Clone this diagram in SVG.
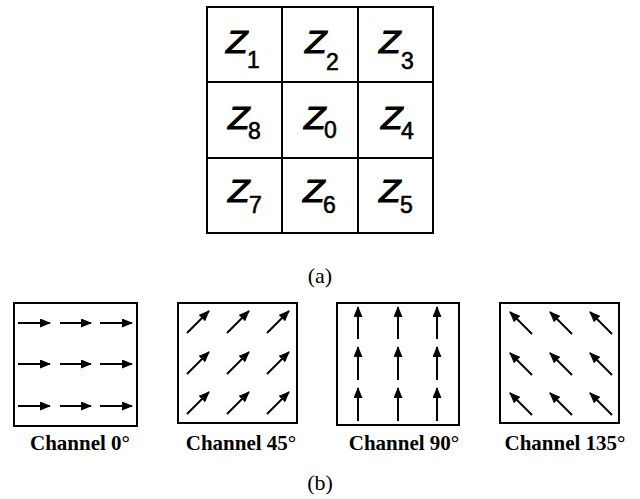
<svg xmlns="http://www.w3.org/2000/svg" width="640" height="499" viewBox="0 0 640 499">
<style>
.frame{fill:#fff;stroke:#000;stroke-width:2}
.z{font-family:"Liberation Sans",Arial,sans-serif;font-style:italic;font-size:32px;fill:#000;stroke:#000;stroke-width:1}
.sub{font-family:"Liberation Sans",Arial,sans-serif;font-size:23px;fill:#000;stroke:#000;stroke-width:0.6}
.lab{font-family:"Liberation Serif","Times New Roman",serif;font-weight:bold;font-size:21px;text-anchor:middle;fill:#000}
.cap{font-family:"Liberation Serif","Times New Roman",serif;font-size:22px;text-anchor:middle;fill:#000}
.ar{stroke:#000;stroke-width:2;fill:none;marker-end:url(#ah)}
</style>
<defs>
<marker id="ah" markerUnits="userSpaceOnUse" markerWidth="11" markerHeight="9" refX="10" refY="4.5" orient="auto">
<path d="M0,0 L11,4.5 L0,9 Z" fill="#000"/>
</marker>
</defs>
<rect width="640" height="499" fill="#fff"/>
<g id="grid">
<rect class="frame" x="207" y="7" width="226" height="226"/>
<path d="M282,7V233M358,7V233M207,82H433M207,158H433" stroke="#000" stroke-width="2" fill="none"/>
</g>
<g id="cells">
<text class="z" x="226" y="53" textLength="21.5" lengthAdjust="spacingAndGlyphs">Z</text><text class="sub" x="247" y="68">1</text>
<text class="z" x="305" y="53" textLength="21.5" lengthAdjust="spacingAndGlyphs">Z</text><text class="sub" x="326" y="70">2</text>
<text class="z" x="379" y="53" textLength="21.5" lengthAdjust="spacingAndGlyphs">Z</text><text class="sub" x="401" y="69">3</text>
<text class="z" x="228" y="129" textLength="21.5" lengthAdjust="spacingAndGlyphs">Z</text><text class="sub" x="248" y="139">8</text>
<text class="z" x="304" y="129" textLength="21.5" lengthAdjust="spacingAndGlyphs">Z</text><text class="sub" x="324" y="138">0</text>
<text class="z" x="381" y="129" textLength="21.5" lengthAdjust="spacingAndGlyphs">Z</text><text class="sub" x="401" y="139">4</text>
<text class="z" x="228" y="202" textLength="21.5" lengthAdjust="spacingAndGlyphs">Z</text><text class="sub" x="249" y="213">7</text>
<text class="z" x="303" y="202" textLength="21.5" lengthAdjust="spacingAndGlyphs">Z</text><text class="sub" x="323" y="213">6</text>
<text class="z" x="379" y="202" textLength="21.5" lengthAdjust="spacingAndGlyphs">Z</text><text class="sub" x="400" y="213">5</text>
</g>
<text class="cap" x="320" y="283">(a)</text>
<g id="ch0">
<rect class="frame" x="14" y="303" width="123" height="123"/>
<text class="lab" x="80" y="450">Channel 0°</text>
</g>
<g id="ch45">
<rect class="frame" x="178" y="303" width="119" height="120"/>
<text class="lab" x="241" y="450">Channel 45°</text>
</g>
<g id="ch90">
<rect class="frame" x="337" y="303" width="122" height="122"/>
<text class="lab" x="404" y="450">Channel 90°</text>
</g>
<g id="ch135">
<rect class="frame" x="500" y="303" width="119" height="120"/>
<text class="lab" x="565" y="450">Channel 135°</text>
</g>
<g id="arrows">
<path class="ar" d="M18,323H50"/><path class="ar" d="M60,323H91"/><path class="ar" d="M100,323H132"/>
<path class="ar" d="M18,364H50"/><path class="ar" d="M60,364H91"/><path class="ar" d="M100,364H132"/>
<path class="ar" d="M18,406H50"/><path class="ar" d="M60,406H91"/><path class="ar" d="M100,406H132"/>
<path class="ar" d="M187,333L209,311"/><path class="ar" d="M227,333L249,311"/><path class="ar" d="M267,333L289,311"/>
<path class="ar" d="M187,374L209,352"/><path class="ar" d="M227,374L249,352"/><path class="ar" d="M267,374L289,352"/>
<path class="ar" d="M187,414L209,392"/><path class="ar" d="M227,414L249,392"/><path class="ar" d="M267,414L289,392"/>
<path class="ar" d="M358,339V307"/><path class="ar" d="M398,339V307"/><path class="ar" d="M437,339V307"/>
<path class="ar" d="M358,380V347"/><path class="ar" d="M398,380V347"/><path class="ar" d="M437,380V347"/>
<path class="ar" d="M358,421V388"/><path class="ar" d="M398,421V388"/><path class="ar" d="M437,421V388"/>
<path class="ar" d="M532,334L510,312"/><path class="ar" d="M572,334L550,312"/><path class="ar" d="M612,334L590,312"/>
<path class="ar" d="M532,375L510,353"/><path class="ar" d="M572,375L550,353"/><path class="ar" d="M612,375L590,353"/>
<path class="ar" d="M532,415L510,393"/><path class="ar" d="M572,415L550,393"/><path class="ar" d="M612,415L590,393"/>
</g>
<text class="cap" x="320" y="490">(b)</text>
</svg>
